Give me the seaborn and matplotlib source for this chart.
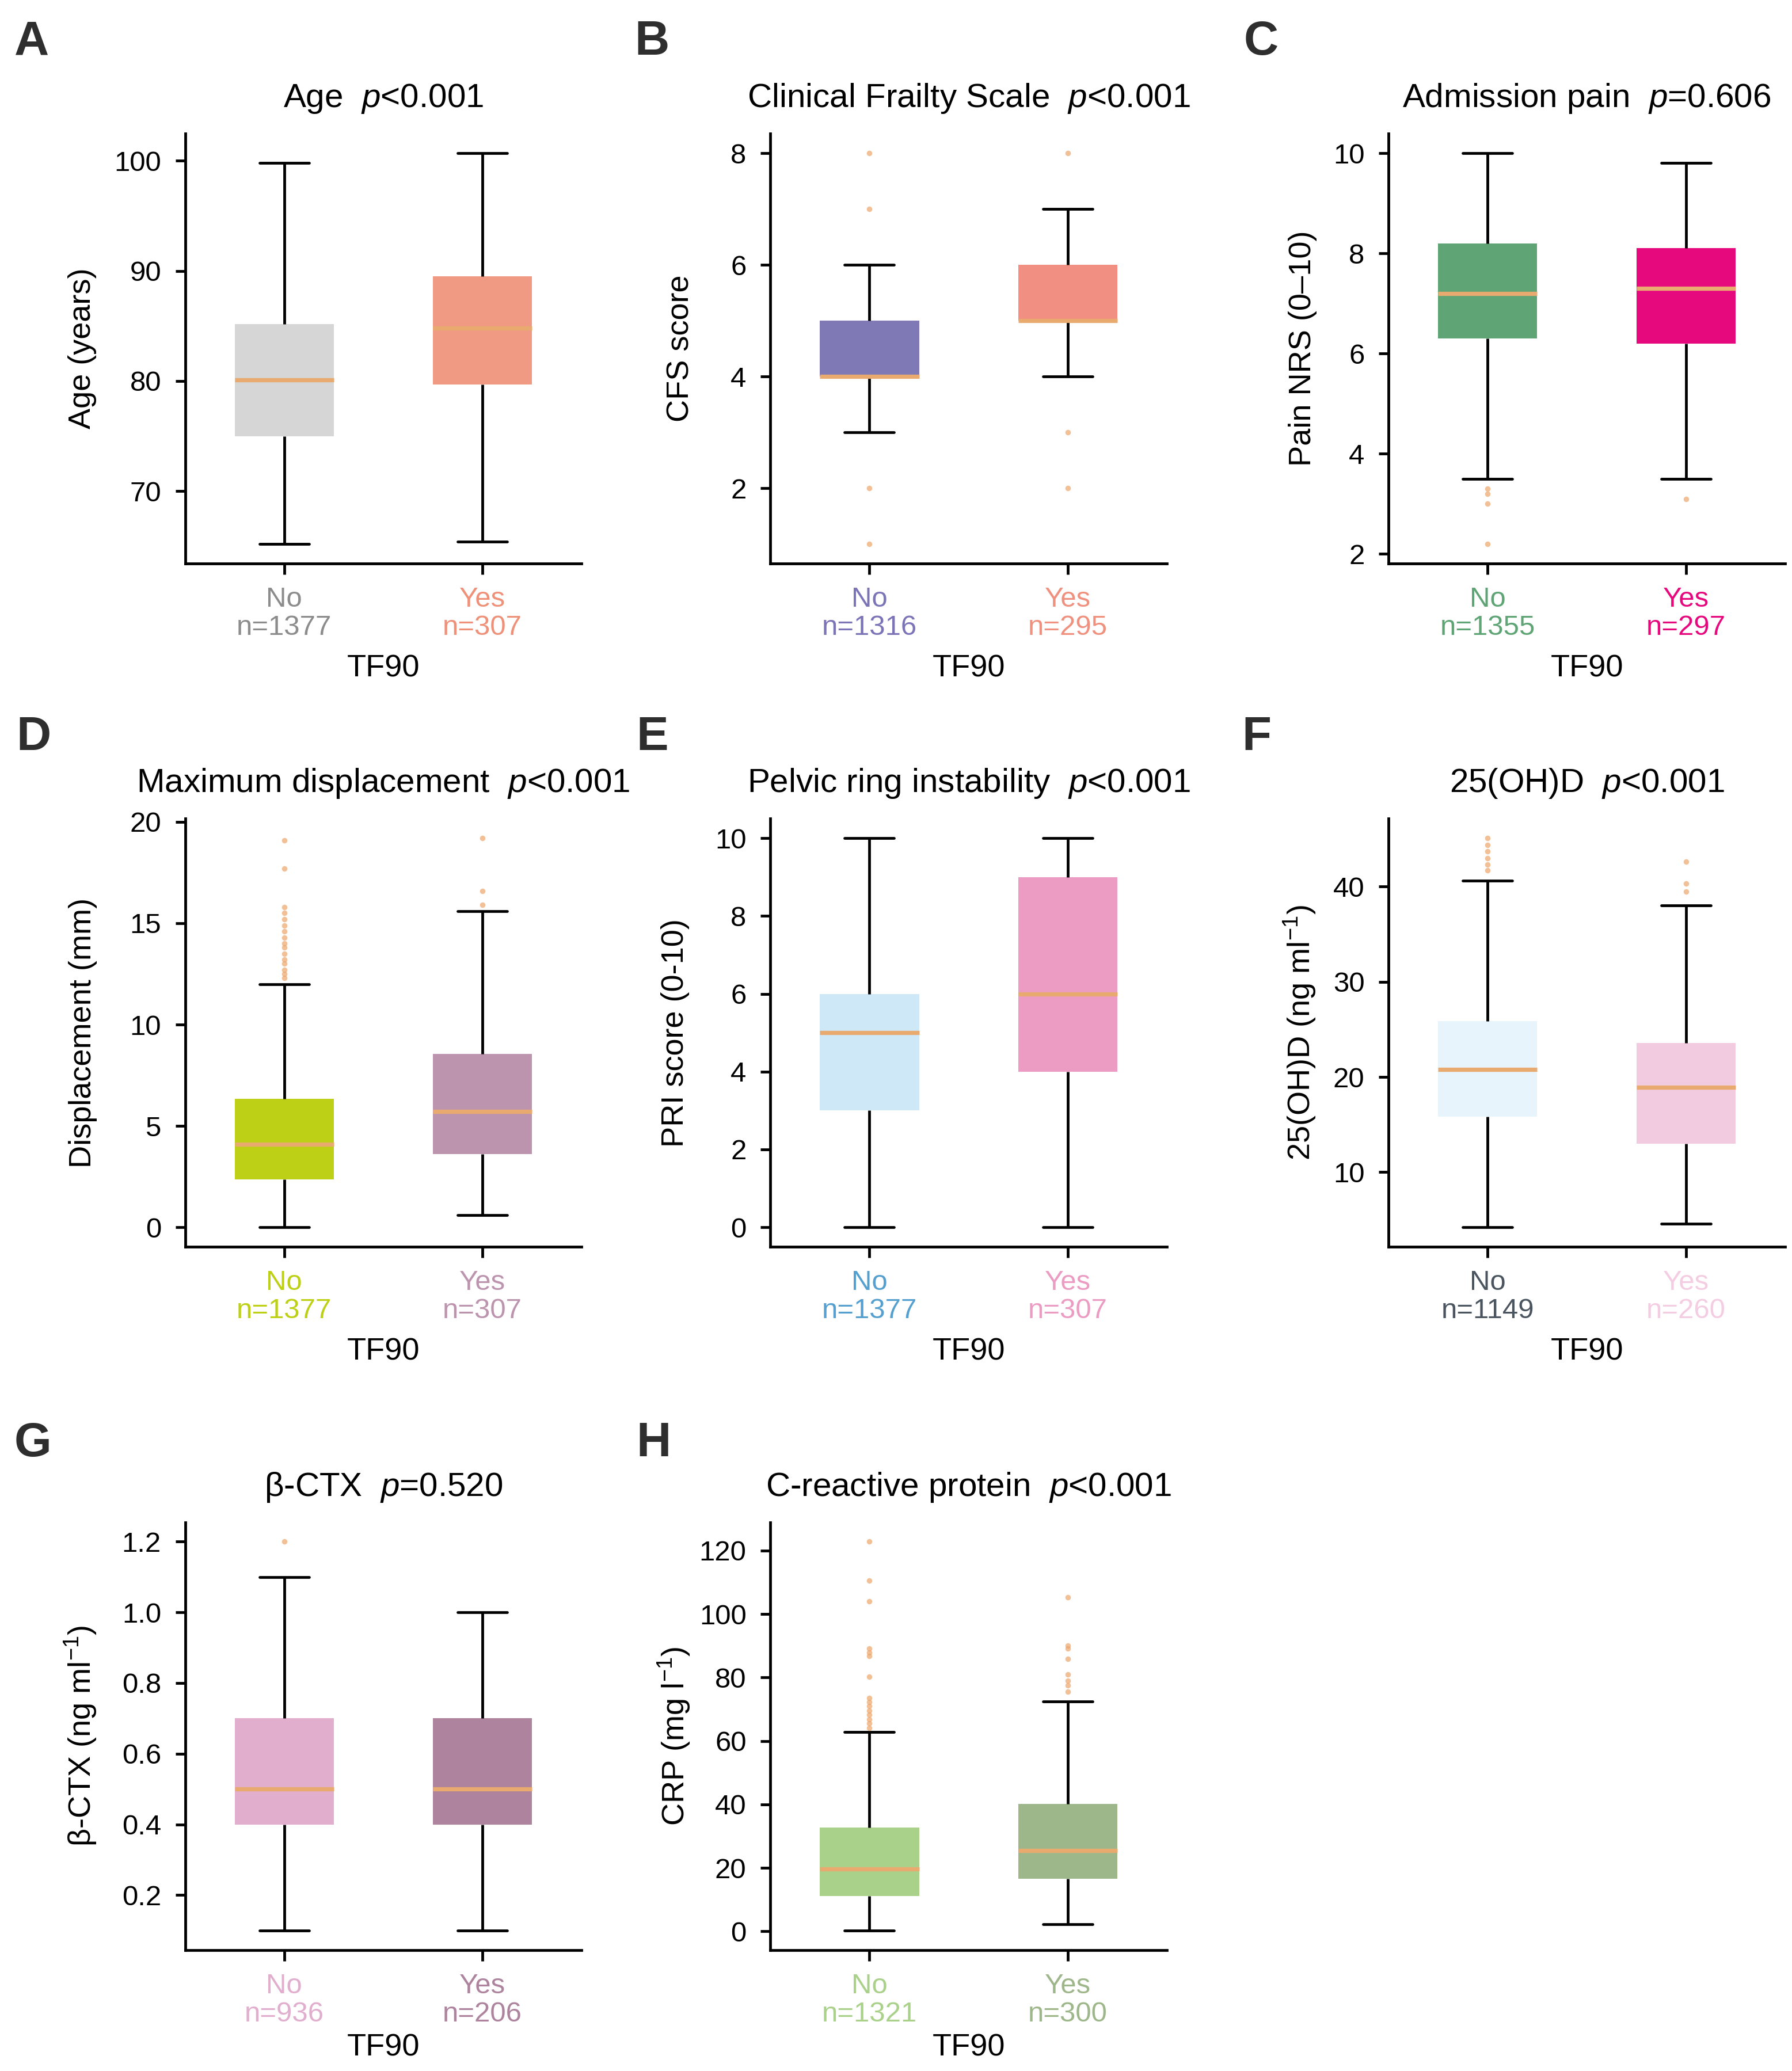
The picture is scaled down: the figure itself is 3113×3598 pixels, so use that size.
import numpy as np
import pandas as pd
import matplotlib
matplotlib.use("Agg")
import matplotlib.pyplot as plt
import seaborn as sns

groups = ["No", "Yes"]

# box summaries: lower whisker, Q1, median, Q3, upper whisker
age_no = [65.2, 75.0, 80.1, 85.2, 99.8]
age_yes = [65.4, 79.7, 84.8, 89.5, 100.7]
age_out_no = []
age_out_yes = []

cfs_no = [3, 4, 4, 5, 6]
cfs_yes = [4, 5, 5, 6, 7]
cfs_out_no = [1, 2, 7, 8]
cfs_out_yes = [2, 3, 8]

pain_no = [3.5, 6.3, 7.2, 8.2, 10.0]
pain_yes = [3.5, 6.2, 7.3, 8.1, 9.8]
pain_out_no = [2.2, 3.0, 3.2, 3.3]
pain_out_yes = [3.1]

disp_no = [0.0, 2.35, 4.1, 6.35, 12.0]
disp_yes = [0.6, 3.6, 5.7, 8.55, 15.6]
disp_out_no = [12.3, 12.5, 12.7, 13.0, 13.2, 13.5, 13.8, 14.0, 14.3, 14.6,
               14.9, 15.2, 15.5, 15.8, 17.7, 19.1]
disp_out_yes = [15.9, 16.6, 19.2]

pri_no = [0, 3, 5, 6, 10]
pri_yes = [0, 4, 6, 9, 10]
pri_out_no = []
pri_out_yes = []

vitd_no = [4.2, 15.85, 20.8, 25.85, 40.6]
vitd_yes = [4.6, 13.0, 18.9, 23.55, 38.0]
vitd_out_no = [41.7, 42.3, 43.0, 43.7, 44.4, 45.1]
vitd_out_yes = [39.5, 40.3, 42.6]

ctx_no = [0.1, 0.4, 0.5, 0.7, 1.1]
ctx_yes = [0.1, 0.4, 0.5, 0.7, 1.0]
ctx_out_no = [1.2]
ctx_out_yes = []

crp_no = [0.3, 11.2, 19.6, 32.7, 62.8]
crp_yes = [2.3, 16.5, 25.5, 40.2, 72.4]
crp_out_no = [64.1, 65.5, 66.8, 68.2, 69.5, 70.9, 72.2, 73.6, 80.3, 86.7,
              87.8, 89.1, 104.0, 110.6, 122.8]
crp_out_yes = [75.6, 77.6, 79.0, 81.0, 85.8, 89.1, 90.1, 105.2]

n_no = [1377, 1316, 1355, 1377, 1377, 1149, 936, 1321]
n_yes = [307, 295, 297, 307, 307, 260, 206, 300]

letters = ["A", "B", "C", "D", "E", "F", "G", "H"]
titles = ["Age", "Clinical Frailty Scale", "Admission pain", "Maximum displacement",
          "Pelvic ring instability", "25(OH)D", "β-CTX", "C-reactive protein"]
pvals = ["<0.001", "<0.001", "=0.606", "<0.001", "<0.001", "<0.001", "=0.520", "<0.001"]
ylabels = ["Age (years)", "CFS score", "Pain NRS (0–10)", "Displacement (mm)",
           "PRI score (0-10)", "25(OH)D (ng ml$^{-1}$)", "β-CTX (ng ml$^{-1}$)",
           "CRP (mg l$^{-1}$)"]
yticks = [[70, 80, 90, 100], [2, 4, 6, 8], [2, 4, 6, 8, 10], [0, 5, 10, 15, 20],
          [0, 2, 4, 6, 8, 10], [10, 20, 30, 40], [0.2, 0.4, 0.6, 0.8, 1.0, 1.2],
          [0, 20, 40, 60, 80, 100, 120]]

box_colors = [["#D6D6D6", "#F09A84"], ["#7F79B5", "#F18F82"], ["#5FA474", "#E6097E"],
              ["#BDD015", "#BD94AE"], ["#CEE8F8", "#EC9CC2"], ["#E8F4FB", "#F2CBE0"],
              ["#E2AECE", "#AD839E"], ["#AAD18A", "#9EB78A"]]
label_colors = [["#8C8C8C", "#EF9079"], ["#7B75B8", "#F0907E"], ["#5FA474", "#E6097E"],
                ["#BDD015", "#BD94AE"], ["#55A0CF", "#EC9CC2"], ["#4A5560", "#F4CDE2"],
                ["#E2AECE", "#AD839E"], ["#AAD18A", "#9EB78A"]]

boxes = [(age_no, age_yes), (cfs_no, cfs_yes), (pain_no, pain_yes), (disp_no, disp_yes),
         (pri_no, pri_yes), (vitd_no, vitd_yes), (ctx_no, ctx_yes), (crp_no, crp_yes)]
outliers = [(age_out_no, age_out_yes), (cfs_out_no, cfs_out_yes),
            (pain_out_no, pain_out_yes), (disp_out_no, disp_out_yes),
            (pri_out_no, pri_out_yes), (vitd_out_no, vitd_out_yes),
            (ctx_out_no, ctx_out_yes), (crp_out_no, crp_out_yes)]

median_color = "#E9AA70"
flier_color = "#EDA66B"

sns.set_theme(style="ticks", rc={
    "axes.linewidth": 1.15,
    "xtick.major.width": 1.15, "ytick.major.width": 1.15,
    "xtick.major.size": 4.6, "ytick.major.size": 4.0,
    "xtick.major.pad": 5, "ytick.major.pad": 6,
    "xtick.labelsize": 11.8, "ytick.labelsize": 11.8,
    "axes.labelsize": 13, "axes.titlesize": 14,
    "text.color": "black", "axes.labelcolor": "black",
    "xtick.color": "black", "ytick.color": "black", "axes.edgecolor": "black",
})
plt.rcParams["font.family"] = ["Liberation Sans", "DejaVu Sans"]
plt.rcParams["mathtext.fontset"] = "custom"
plt.rcParams["mathtext.rm"] = "Liberation Sans"
plt.rcParams["mathtext.it"] = "Liberation Sans:italic"
plt.rcParams["mathtext.bf"] = "Liberation Sans:bold"

fig = plt.figure(figsize=(3113 / 300, 3598 / 300), dpi=300)

col_left = [0.1033, 0.4299, 0.7749]
row_bottom = [0.7279, 0.398, 0.0585]
row_height = [0.2076, 0.2067, 0.2065]
ax_width = 0.2212
xlabel_pad = [5.5, 5.5, 2.5]
ylabel_x = [-0.223, -0.19, -0.18, -0.222, -0.203, -0.177, -0.217, -0.197]
letter_pos = [(0.008, 0.9905), (0.354, 0.9905), (0.694, 0.9905),
              (0.009, 0.6548), (0.355, 0.6548), (0.693, 0.6548),
              (0.008, 0.3138), (0.355, 0.3138)]

for i in range(8):
    r, c = divmod(i, 3)
    ax = fig.add_axes([col_left[c], row_bottom[r], ax_width, row_height[r]])

    no_vals, yes_vals = boxes[i]
    df = pd.DataFrame({"TF90": ["No"] * len(no_vals) + ["Yes"] * len(yes_vals),
                       "value": no_vals + yes_vals})
    sns.boxplot(data=df, x="TF90", y="value", hue="TF90", order=groups,
                hue_order=groups, palette=box_colors[i], saturation=1, width=0.5,
                whis=(0, 100), showfliers=False, linewidth=1.15, linecolor="black",
                boxprops={"edgecolor": "none", "linewidth": 0},
                medianprops={"color": median_color, "linewidth": 1.75},
                legend=False, ax=ax)

    out_no, out_yes = outliers[i]
    if out_no or out_yes:
        fdf = pd.DataFrame({"TF90": ["No"] * len(out_no) + ["Yes"] * len(out_yes),
                            "value": out_no + out_yes})
        sns.stripplot(data=fdf, x="TF90", y="value", order=groups, jitter=False,
                      color=flier_color, size=2.3, alpha=0.7, linewidth=0,
                      zorder=3, ax=ax)

    ax.set_xlim(-0.5, 1.5)
    ax.set_yticks(yticks[i])
    ax.set_xticks([0, 1])
    ax.set_xticklabels([f"No\nn={n_no[i]}", f"Yes\nn={n_yes[i]}"], linespacing=1.12)
    for lab, col in zip(ax.get_xticklabels(), label_colors[i]):
        lab.set_color(col)
    ax.set_xlabel("TF90", labelpad=xlabel_pad[r])
    ax.set_ylabel(ylabels[i])
    ax.yaxis.set_label_coords(ylabel_x[i], 0.5)
    ax.set_title(f"{titles[i]}  $p${pvals[i]}", pad=11)
    sns.despine(ax=ax)

    fig.text(letter_pos[i][0], letter_pos[i][1], letters[i], fontsize=20,
             fontweight="bold", color="#2E2E2E", ha="left", va="top")

fig.savefig("out.png", dpi=300)
